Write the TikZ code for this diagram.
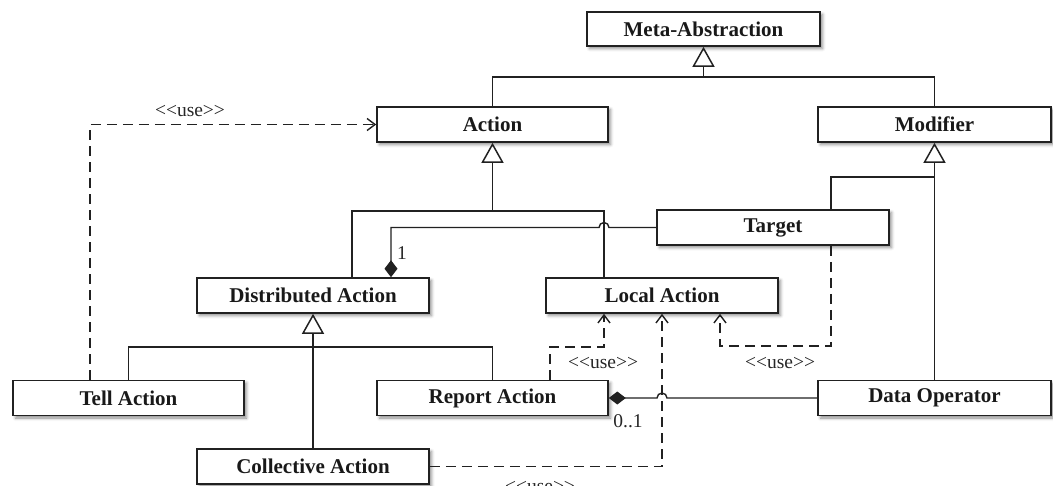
\documentclass[tikz,border=0pt]{standalone}
\usepackage{fontspec}
\setmainfont{Liberation Serif}
\usetikzlibrary{arrows.meta,shadows.blur}

\begin{document}
\begin{tikzpicture}[x=1pt,y=-1pt,
  ink/.style={draw=black!87},
  cls/.style={ink, line width=1.6pt, fill=white, minimum width=232pt,
    minimum height=35pt, inner sep=0pt, text=black!90,
    font=\fontsize{21}{25}\selectfont\bfseries,
    blur shadow={shadow xshift=2.5pt, shadow yshift=-2.5pt,
      shadow blur radius=3pt, shadow opacity=45}},
  link/.style={ink, line width=1.4pt},
  gen/.style={link, -{Triangle[open, length=20pt, width=22pt, line width=1.5pt]}},
  comp/.style={link, -{Diamond[length=17pt, width=13pt, fill=black!87]}},
  uses/.style={link, dash pattern=on 10pt off 6pt,
    -{Straight Barb[length=8pt, width=12pt, line width=1.4pt]}},
  lbl/.style={inner sep=0pt, text=black!85, font=\fontsize{19.5}{22}\selectfont}
]
\useasboundingbox (0,0) rectangle (1053,485);
\clip (0,0) rectangle (1053,485);

% classes
\node[cls, minimum width=233pt, minimum height=34pt] (meta) at (703.5,29) {Meta-Abstraction};
\node[cls, minimum width=231pt] (action) at (492.5,124.5) {Action};
\node[cls, minimum width=233pt] (modifier) at (934.5,124.5) {Modifier};
\node[cls] (target) at (773,227.5) {Target};
\node[cls] (dist) at (313,295.5) {Distributed Action};
\node[cls] (local) at (662,295.5) {Local Action};
\node[cls, minimum width=231pt] (tell) at (128.5,398) {Tell Action};
\node[cls, minimum width=231pt] (report) at (492.5,398) {Report Action};
\node[cls, minimum width=233pt] (dataop) at (934.5,398) {Data Operator};
\node[cls] (coll) at (313,466.5) {Collective Action};

% helper coordinates for bends and attachment columns
\coordinate (yMeta) at (0,77);
\coordinate (yAct) at (0,211);
\coordinate (yMod) at (0,177);
\coordinate (yDist) at (0,347);
\coordinate (yUse) at (0,346);
\coordinate (xDA) at (352,0);
\coordinate (xLA) at (604,0);
\coordinate (xTG) at (831,0);
\coordinate (xDiam) at (391,0);
\coordinate (xJmpA) at (609,0);
\coordinate (xJmpB) at (667,0);
\coordinate (xTell) at (90,0);
\coordinate (xRep) at (550,0);
\coordinate (xTgt) at (720,0);

% generalisations
\draw[link] (action.north) |- (meta.south |- yMeta) -| (modifier.north);
\draw[gen] (meta.south |- yMeta) -- (meta.south);

\draw[link] (dist.north -| xDA) |- (xLA |- yAct) -- (local.north -| xLA);
\draw[gen] (action.south |- yAct) -- (action.south);

\draw[link] (target.north -| xTG) |- (modifier.south |- yMod);
\draw[gen] (dataop.north) -- (modifier.south);

\draw[link] (tell.north) |- (report.north |- yDist) -- (report.north);
\draw[gen] (coll.north) -- (dist.south);

% compositions (with line jumps)
\draw[comp] (target.west) -- (target.west -| xJmpA)
  arc[start angle=0, end angle=180, radius=5pt]
  -- (target.west -| xDiam) -- (dist.north -| xDiam);
\draw[comp] (dataop.west) -- (dataop.west -| xJmpB)
  arc[start angle=0, end angle=180, radius=5pt]
  -- (report.east);

% dependencies
\draw[uses] (tell.north -| xTell) |- (action.west);
\draw[uses] (report.north -| xRep) |- (xLA |- yDist) -- (local.south -| xLA);
\draw[uses] (target.south -| xTG) |- (xTgt |- yUse) -- (local.south -| xTgt);
\draw[uses] (coll.east) -| (local.south);

% labels
\node[lbl] (u1) at (190,111) {<{}<use>{}>};
\node[lbl] (u2) at (603,363) {<{}<use>{}>};
\node[lbl] (u3) at (780,363) {<{}<use>{}>};
\node[lbl] (u4) at (540,487) {<{}<use>{}>};
\node[lbl] (m1) at (402,253) {1};
\node[lbl] (m2) at (628,421) {0..1};
\end{tikzpicture}
\end{document}
